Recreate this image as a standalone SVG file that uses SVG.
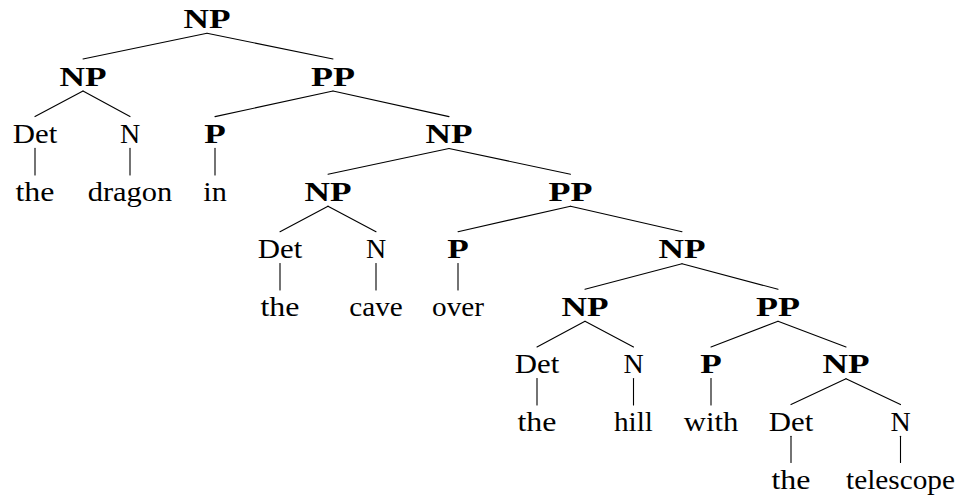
<svg xmlns="http://www.w3.org/2000/svg" width="960" height="495" viewBox="0 0 960 495">
<style>
text{font-family:"Liberation Serif","Times New Roman",serif;font-size:28px;fill:#000;text-anchor:middle}
.b{font-weight:bold}
#edges line{stroke:#000;stroke-width:1.1;stroke-linecap:round}
</style>
<rect width="960" height="495" fill="#fff"/>
<g id="edges">
<line x1="207" y1="33.3" x2="83" y2="59"/>
<line x1="207" y1="33.3" x2="333" y2="59"/>
<line x1="83" y1="91" x2="35" y2="116.6"/>
<line x1="83" y1="91" x2="130" y2="116.6"/>
<line x1="333" y1="91" x2="215" y2="116.6"/>
<line x1="333" y1="91" x2="449" y2="116.6"/>
<line x1="35" y1="148.4" x2="35" y2="175"/>
<line x1="130" y1="148.4" x2="130" y2="175"/>
<line x1="215" y1="148.4" x2="215" y2="175"/>
<line x1="449" y1="148.5" x2="328" y2="174.2"/>
<line x1="449" y1="148.5" x2="570.5" y2="174.2"/>
<line x1="328" y1="206.2" x2="280" y2="231.7"/>
<line x1="328" y1="206.2" x2="376" y2="231.7"/>
<line x1="570.5" y1="206.2" x2="458" y2="231.7"/>
<line x1="570.5" y1="206.2" x2="682" y2="231.7"/>
<line x1="280" y1="263.5" x2="280" y2="290"/>
<line x1="376" y1="263.5" x2="376" y2="290"/>
<line x1="458" y1="263.5" x2="458" y2="290"/>
<line x1="682" y1="263.7" x2="585" y2="289.3"/>
<line x1="682" y1="263.7" x2="778" y2="289.3"/>
<line x1="585" y1="321.3" x2="537" y2="347"/>
<line x1="585" y1="321.3" x2="633.5" y2="347"/>
<line x1="778" y1="321.3" x2="711" y2="347"/>
<line x1="778" y1="321.3" x2="846" y2="347"/>
<line x1="537" y1="378.6" x2="537" y2="405"/>
<line x1="633.5" y1="378.6" x2="633.5" y2="405"/>
<line x1="711" y1="378.6" x2="711" y2="405"/>
<line x1="846" y1="378.8" x2="791" y2="404.6"/>
<line x1="846" y1="378.8" x2="900.5" y2="404.6"/>
<line x1="791" y1="436.3" x2="791" y2="462.5"/>
<line x1="900.5" y1="436.3" x2="900.5" y2="462.5"/>
</g>
<g id="np0"><text class="b" x="207" y="28" textLength="47" lengthAdjust="spacingAndGlyphs">NP</text></g>
<g id="np1"><text class="b" x="83" y="85.6" textLength="47" lengthAdjust="spacingAndGlyphs">NP</text></g>
<g id="pp1"><text class="b" x="333" y="85.6" textLength="44" lengthAdjust="spacingAndGlyphs">PP</text></g>
<g id="det1"><text x="35" y="143.1" textLength="44.5" lengthAdjust="spacingAndGlyphs">Det</text></g>
<g id="n1"><text x="130" y="143.1">N</text></g>
<g id="p1"><text class="b" x="215" y="143.1" textLength="21.5" lengthAdjust="spacingAndGlyphs">P</text></g>
<g id="np2"><text class="b" x="449" y="143.1" textLength="47" lengthAdjust="spacingAndGlyphs">NP</text></g>
<g id="w-the1"><text x="35" y="200.7" textLength="39" lengthAdjust="spacingAndGlyphs">the</text></g>
<g id="w-dragon"><text x="130" y="200.7" textLength="84.5" lengthAdjust="spacingAndGlyphs">dragon</text></g>
<g id="w-in"><text x="215" y="200.7" textLength="23.5" lengthAdjust="spacingAndGlyphs">in</text></g>
<g id="np3"><text class="b" x="328" y="200.7" textLength="47" lengthAdjust="spacingAndGlyphs">NP</text></g>
<g id="pp3"><text class="b" x="570.5" y="200.7" textLength="44" lengthAdjust="spacingAndGlyphs">PP</text></g>
<g id="det4"><text x="280" y="258.2" textLength="44.5" lengthAdjust="spacingAndGlyphs">Det</text></g>
<g id="n4"><text x="376" y="258.2">N</text></g>
<g id="p4"><text class="b" x="458" y="258.2" textLength="21.5" lengthAdjust="spacingAndGlyphs">P</text></g>
<g id="np4"><text class="b" x="682" y="258.2" textLength="47" lengthAdjust="spacingAndGlyphs">NP</text></g>
<g id="w-the2"><text x="280" y="315.8" textLength="39" lengthAdjust="spacingAndGlyphs">the</text></g>
<g id="w-cave"><text x="376" y="315.8" textLength="53.5" lengthAdjust="spacingAndGlyphs">cave</text></g>
<g id="w-over"><text x="458" y="315.8" textLength="52" lengthAdjust="spacingAndGlyphs">over</text></g>
<g id="np5"><text class="b" x="585" y="315.8" textLength="47" lengthAdjust="spacingAndGlyphs">NP</text></g>
<g id="pp5"><text class="b" x="778" y="315.8" textLength="44" lengthAdjust="spacingAndGlyphs">PP</text></g>
<g id="det6"><text x="537" y="373.4" textLength="44.5" lengthAdjust="spacingAndGlyphs">Det</text></g>
<g id="n6"><text x="633.5" y="373.4">N</text></g>
<g id="p6"><text class="b" x="711" y="373.4" textLength="21.5" lengthAdjust="spacingAndGlyphs">P</text></g>
<g id="np6"><text class="b" x="846" y="373.4" textLength="47" lengthAdjust="spacingAndGlyphs">NP</text></g>
<g id="w-the3"><text x="537" y="430.9" textLength="39" lengthAdjust="spacingAndGlyphs">the</text></g>
<g id="w-hill"><text x="633.5" y="430.9" textLength="39" lengthAdjust="spacingAndGlyphs">hill</text></g>
<g id="w-with"><text x="711" y="430.9" textLength="54.5" lengthAdjust="spacingAndGlyphs">with</text></g>
<g id="det7"><text x="791" y="430.9" textLength="44.5" lengthAdjust="spacingAndGlyphs">Det</text></g>
<g id="n7"><text x="900.5" y="430.9">N</text></g>
<g id="w-the4"><text x="791" y="488.5" textLength="39" lengthAdjust="spacingAndGlyphs">the</text></g>
<g id="w-telescope"><text x="900.5" y="488.5" textLength="109" lengthAdjust="spacingAndGlyphs">telescope</text></g>
</svg>
